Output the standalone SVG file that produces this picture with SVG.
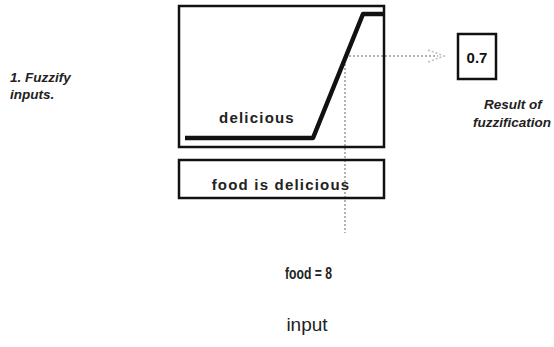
<svg xmlns="http://www.w3.org/2000/svg" width="554" height="347" viewBox="0 0 554 347">
<style>
.box{fill:none;stroke:#111;stroke-width:2.5}
.dot{fill:none;stroke:#999;stroke-width:1.5;stroke-dasharray:2 2}
.it{font-family:"Liberation Sans",Arial,sans-serif;font-style:italic;font-weight:bold;font-size:13.5px;fill:#222}
.b{font-family:"Liberation Sans",Arial,sans-serif;font-weight:bold;font-size:15px;fill:#222;letter-spacing:1.2px}
</style>
<rect width="554" height="347" fill="#fff"/>
<g id="connectors">
<path class="dot" d="M345 56 V233"/>
<path class="dot" d="M345 56 H438"/>
<path d="M428 50 L444 56 L428 62" fill="none" stroke="#bbb" stroke-width="1.5" stroke-dasharray="2 2"/>
</g>
<g id="membership">
<rect class="box" x="179" y="6" width="205" height="141"/>
<path d="M185 138 H313 L363 14 H384" fill="none" stroke="#111" stroke-width="4.5" stroke-linejoin="round"/>
<text class="b" x="257" y="123" text-anchor="middle">delicious</text>
</g>
<g id="rule">
<rect class="box" x="179" y="160" width="205" height="38"/>
<text class="b" x="281" y="190" text-anchor="middle">food is delicious</text>
</g>
<g id="result">
<rect class="box" x="458" y="34" width="38" height="45"/>
<text x="477" y="63" text-anchor="middle" font-family="'Liberation Sans',Arial,sans-serif" font-weight="bold" font-size="15" fill="#111">0.7</text>
<text class="it" x="513" y="109" text-anchor="middle">Result of</text>
<text class="it" x="551" y="127" text-anchor="end">fuzzification</text>
</g>
<g id="label">
<text class="it" x="10" y="82">1. Fuzzify</text>
<text class="it" x="10" y="99">inputs.</text>
</g>
<g id="inputs">
<text x="285" y="279" textLength="47" lengthAdjust="spacingAndGlyphs" font-family="'Liberation Sans',Arial,sans-serif" font-weight="bold" font-size="17" fill="#222">food = 8</text>
<text x="307" y="331" text-anchor="middle" font-family="'Liberation Sans',Arial,sans-serif" font-size="19" fill="#222">input</text>
</g>
</svg>
